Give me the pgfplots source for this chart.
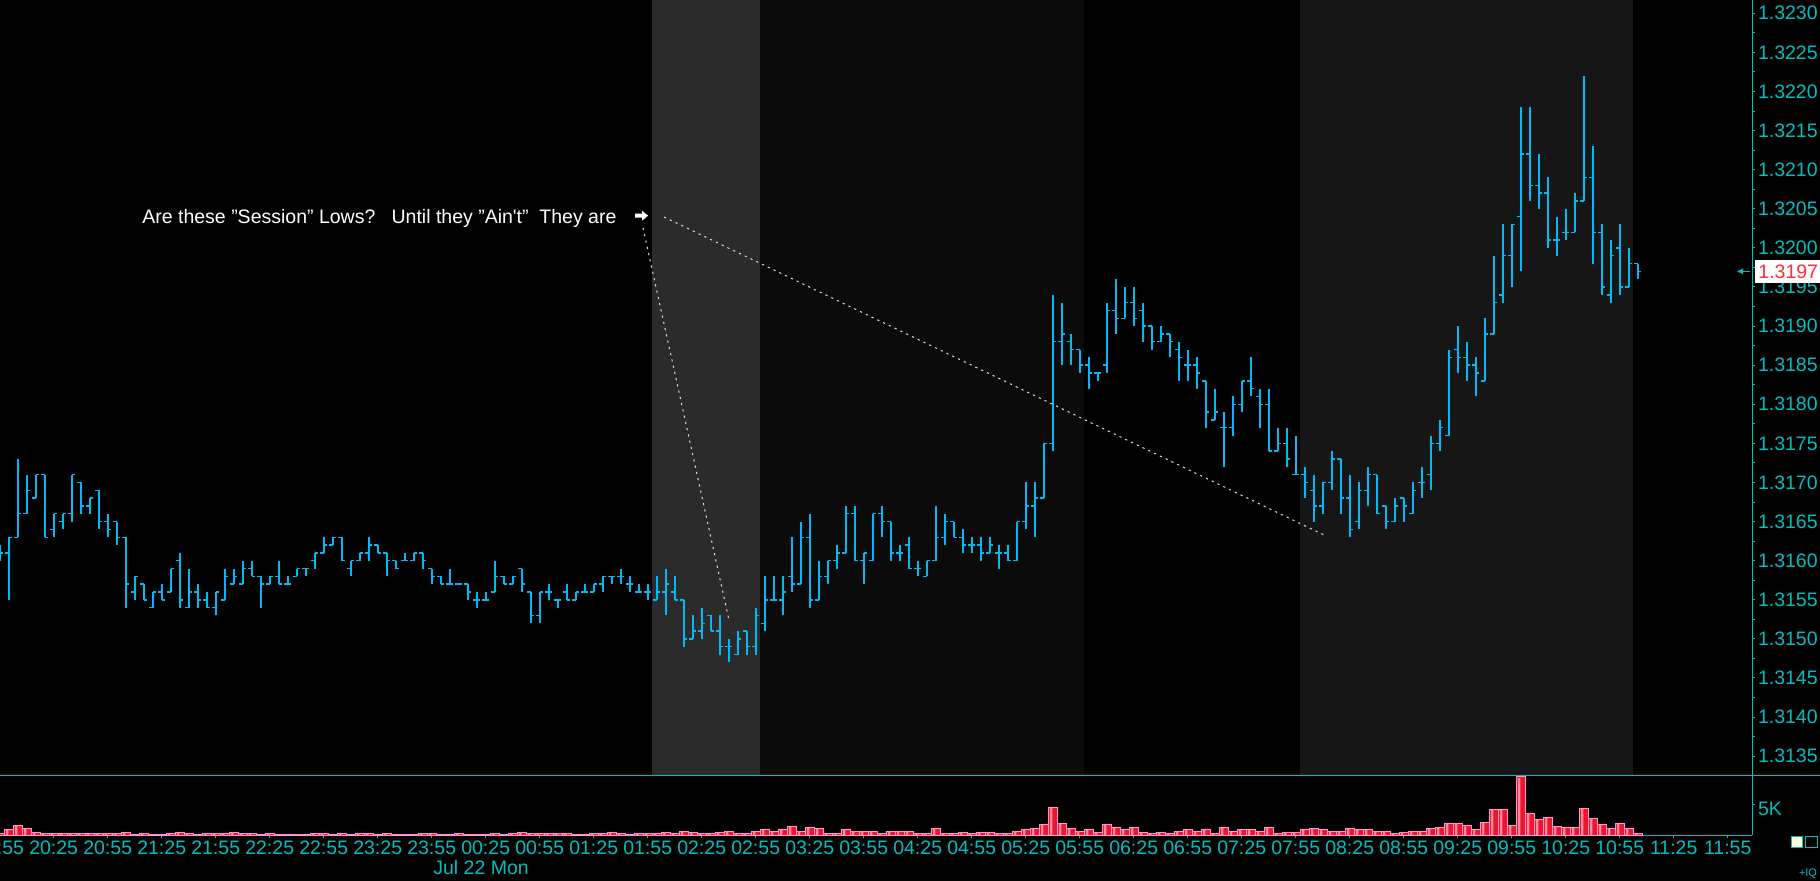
\documentclass[border=0pt]{standalone}
\usepackage{pgfplots}
\pgfplotsset{compat=1.18}
\usepackage{pgfplotstable}
\usepackage{fontspec}
\setmainfont{Liberation Sans}

\definecolor{barblue}{RGB}{0,185,245}
\definecolor{axcyan}{RGB}{0,190,190}
\definecolor{sessA}{RGB}{43,43,43}
\definecolor{sessB}{RGB}{11,11,11}
\definecolor{sessC}{RGB}{22,22,22}
\definecolor{vred}{RGB}{240,20,45}
\definecolor{vlight}{RGB}{255,140,155}
\definecolor{vborder}{RGB}{255,150,220}
\definecolor{lastred}{RGB}{255,45,60}
\definecolor{cream}{RGB}{255,255,215}

\newcommand\lblfont{\fontsize{9.75}{11}\selectfont}

\pgfdeclareplotmark{otick}{\pgfpathmoveto{\pgfqpoint{-1.7pt}{0pt}}\pgfpathlineto{\pgfqpoint{0pt}{0pt}}\pgfusepathqstroke}
\pgfdeclareplotmark{ctick}{\pgfpathmoveto{\pgfqpoint{0pt}{0pt}}\pgfpathlineto{\pgfqpoint{1.7pt}{0pt}}\pgfusepathqstroke}

% price in pips above 1.3000 (o h l c), volume v
\pgfplotstableread{
i o h l c v
0 161 162 160 161 335
1 161 163 155 163 890
2 163 173 163 166 1555
3 166 171 166 169 1055
4 168 171 168 171 500
5 171 171 163 163 335
6 164 166 163 166 220
7 165 166 164 166 220
8 166 171 165 171 335
9 170 170 166 167 335
10 167 168 166 168 220
11 169 169 164 165 220
12 165 166 163 164 220
13 165 165 162 163 220
14 163 163 154 157 500
15 156 158 155 158 110
16 157 157 155 155 220
17 154 156 154 156 110
18 156 157 155 155 110
19 156 159 156 159 220
20 160 161 154 155 390
21 154 159 154 156 220
22 156 157 154 155 110
23 155 156 154 154 220
24 154 156 153 156 220
25 155 159 155 158 220
26 157 159 157 158 390
27 157 160 157 159 220
28 159 160 158 158 220
29 158 158 154 157 110
30 157 158 157 158 220
31 158 160 157 157 110
32 157 158 157 157 110
33 158 159 158 159 110
34 159 159 158 159 110
35 160 161 159 161 220
36 161 163 161 162 220
37 162 163 162 163 110
38 163 163 160 160 220
39 159 160 158 160 110
40 160 161 160 161 220
41 161 163 160 162 220
42 162 162 161 161 110
43 161 161 158 160 220
44 160 160 159 159 110
45 160 161 160 160 110
46 160 161 160 161 110
47 161 161 159 160 220
48 159 159 157 158 220
49 158 158 157 157 110
50 157 159 157 157 110
51 157 157 157 157 220
52 157 157 155 156 110
53 155 156 154 155 110
54 155 156 155 155 110
55 156 160 156 158 220
56 158 158 157 157 110
57 157 158 157 158 220
58 159 159 156 157 390
59 156 156 152 153 220
60 153 156 152 156 220
61 156 157 155 156 220
62 155 155 154 155 220
63 156 157 155 155 220
64 155 156 155 156 110
65 156 157 156 156 110
66 156 157 156 157 220
67 157 158 156 158 220
68 158 158 157 158 390
69 158 159 157 158 220
70 157 158 156 157 110
71 156 157 156 156 220
72 156 157 155 156 220
73 155 158 155 156 220
74 156 159 153 157 390
75 156 158 155 155 220
76 155 155 149 150 555
77 150 153 150 151 390
78 151 154 150 152 220
79 153 153 151 151 220
80 151 153 148 149 390
81 149 150 147 149 555
82 148 151 148 150 220
83 151 151 148 149 220
84 149 154 148 153 555
85 152 158 151 155 890
86 155 158 155 155 665
87 155 158 153 156 890
88 158 163 156 157 1390
89 157 165 157 163 665
90 163 166 154 155 1225
91 155 160 155 158 1055
92 158 160 157 160 335
93 160 162 159 161 335
94 161 167 161 166 890
95 166 167 160 160 665
96 160 161 157 161 665
97 160 166 160 166 665
98 166 167 163 165 335
99 165 165 160 161 665
100 161 162 160 161 665
101 162 163 159 159 665
102 159 160 158 159 335
103 158 160 158 160 335
104 160 167 160 163 1055
105 163 166 162 165 335
106 165 165 163 163 220
107 163 164 161 162 500
108 162 163 161 162 220
109 162 163 160 161 500
110 161 163 161 162 500
111 161 162 159 161 335
112 161 162 160 160 335
113 160 165 160 165 665
114 165 170 164 167 890
115 167 170 163 168 1055
116 168 175 168 175 1725
117 175 194 174 188 4560
118 188 193 185 189 1890
119 188 189 185 187 1055
120 187 187 184 185 665
121 185 186 182 184 890
122 184 184 183 184 500
123 185 193 184 192 1670
124 192 196 189 191 1225
125 191 195 191 193 890
126 193 195 190 191 1225
127 192 193 188 190 500
128 190 190 187 188 335
129 188 190 188 189 500
130 189 189 186 188 335
131 187 188 183 186 665
132 185 187 183 185 890
133 185 186 182 184 665
134 183 183 177 179 890
135 178 182 178 179 335
136 177 179 172 177 1225
137 177 181 176 180 665
138 180 183 179 183 890
139 183 186 181 182 890
140 181 182 177 180 665
141 180 182 174 174 1225
142 174 177 174 175 335
143 175 177 172 173 500
144 171 176 171 171 500
145 171 172 168 170 890
146 169 171 165 167 1055
147 167 170 166 170 890
148 170 174 169 173 665
149 173 173 166 168 665
150 168 171 163 164 1055
151 165 170 164 169 890
152 169 172 167 171 890
153 171 171 166 166 665
154 167 167 164 165 665
155 165 168 165 167 335
156 168 168 165 167 500
157 166 170 166 169 665
158 170 172 168 170 665
159 171 176 169 175 1055
160 175 178 174 177 1225
161 176 187 176 186 1890
162 187 190 184 186 1890
163 186 188 183 185 1500
164 185 186 181 184 890
165 183 191 183 189 2055
166 189 199 189 193 4225
167 194 203 193 199 4225
168 199 203 195 203 1555
169 204 218 197 212 9500
170 212 218 206 208 3560
171 208 212 205 207 2560
172 207 209 200 201 2890
173 201 204 199 201 1390
174 202 205 201 202 1225
175 202 207 202 206 1225
176 206 222 206 209 4390
177 209 213 198 202 2725
178 202 203 194 195 1725
179 194 201 193 199 1055
180 200 203 194 195 1890
181 195 200 195 198 1055
182 198 198 196 197 335
}\ohlc

\begin{document}
\begin{tikzpicture}
\useasboundingbox (0pt,0pt) rectangle (910pt,440.5pt);
\fill[black] (0pt,0pt) rectangle (910pt,440.5pt);

% ---------------- price panel ----------------
\begin{axis}[
  at={(0pt,440.5pt)}, anchor=north west,
  scale only axis, width=876pt, height=388pt,
  xmin=0.0333, xmax=194.7, ymin=132.47, ymax=231.70,
  axis x line=none, axis y line*=right,
  axis line style={-, draw=axcyan, line width=0.5pt},
  ytick={135,140,...,230},
  yticklabels={1.3135,1.3140,1.3145,1.3150,1.3155,1.3160,1.3165,1.3170,1.3175,1.3180,1.3185,1.3190,1.3195,1.3200,1.3205,1.3210,1.3215,1.3220,1.3225,1.3230},
  minor ytick={137.5,142.5,...,227.5},
  tick align=outside, major tick length=1.6pt, minor tick length=1.6pt,
  tick style={draw=axcyan, line width=0.5pt},
  yticklabel style={font=\lblfont, text=axcyan, anchor=west, inner sep=0pt, xshift=1.2pt},
  clip=false,
]
% session shading
\fill[sessA] (axis cs:72.5,132.47) rectangle (axis cs:84.5,231.70);
\fill[sessB] (axis cs:84.5,132.47) rectangle (axis cs:120.5,231.70);
\fill[sessC] (axis cs:144.5,132.47) rectangle (axis cs:181.5,231.70);

% high-low range
\addplot[draw=none, mark=none,
  error bars/.cd, y dir=plus, y explicit, error mark=none,
  error bar style={draw=barblue, line width=0.85pt, solid}]
  table[x=i, y=l, y error plus expr=\thisrow{h}-\thisrow{l}] {\ohlc};
% open / close ticks
\addplot[only marks, mark=otick, draw=barblue, line width=0.72pt] table[x=i, y=o] {\ohlc};
\addplot[only marks, mark=ctick, draw=barblue, line width=0.72pt] table[x=i, y=c] {\ohlc};

% annotation
\draw[white!88!black, line width=0.5pt, dash pattern=on 1.1pt off 2.1pt] (axis cs:73.81,203.95) -- (axis cs:147.37,163.16);
\draw[white!88!black, line width=0.5pt, dash pattern=on 1.1pt off 2.1pt] (axis cs:71.48,202.54) -- (axis cs:81.03,152.42);
\node[anchor=base west, inner sep=0pt, text=white, font=\lblfont] at (axis cs:15.81,203.18)
  {Are these "Session" Lows?\ \ \ Until they "Ain\textquotesingle t"\ \ They are};
\coordinate (arr) at (axis cs:70.59,204.12);
\coordinate (lp) at (axis cs:194.7,197);
\end{axis}

% ---------------- volume panel ----------------
\begin{axis}[
  at={(0pt,52.5pt)}, anchor=north west,
  scale only axis, width=876pt, height=29.65pt,
  xmin=0.0333, xmax=194.7, ymin=0, ymax=9565,
  axis x line*=bottom, axis y line*=right,
  axis line style={-, draw=axcyan, line width=0.5pt},
  xtick={6,12,...,192},
  xticklabels={20:25,20:55,21:25,21:55,22:25,22:55,23:25,23:55,00:25,00:55,01:25,01:55,02:25,02:55,03:25,03:55,04:25,04:55,05:25,05:55,06:25,06:55,07:25,07:55,08:25,08:55,09:25,09:55,10:25,10:55,11:25,11:55},
  ytick={5000}, yticklabels={5K},
  tick align=outside, major tick length=1.6pt,
  tick style={draw=axcyan, line width=0.5pt},
  xticklabel style={font=\lblfont, text=axcyan, anchor=north, inner sep=0pt, yshift=-1.2pt},
  yticklabel style={font=\lblfont, text=axcyan, anchor=west, inner sep=0pt, xshift=1.2pt, yshift=-2.5pt},
  clip=false,
]
\addplot[ybar, bar width=4.5pt, fill=vred, draw=vborder, line width=0.5pt] table[x=i, y=v] {\ohlc};
\addplot[ybar, bar width=1.1pt, bar shift=-0.7pt, fill=vlight, draw=none] table[x=i, y expr=\thisrow{v}*0.97] {\ohlc};
% first (cut-off) time label at bar 0
\node[anchor=north, inner sep=0pt, text=axcyan, font=\lblfont, yshift=-2.8pt] at (axis cs:0,0) {19:55};
\end{axis}

% separator line
\draw[axcyan, line width=0.5pt] (0pt,52.5pt) -- (910pt,52.5pt);

% arrow after annotation text
\fill[white] ([shift={(0pt,-1pt)}]arr) -- ++(3.5pt,0pt) -- ++(0pt,-1.5pt) -- ++(3pt,2.5pt) -- ++(-3pt,2.5pt) -- ++(0pt,-1.5pt) -- ++(-3.5pt,0pt) -- cycle;

% last price marker
\node[anchor=west, xshift=1.5pt, fill=white, text=lastred, font=\lblfont, inner xsep=1.5pt, inner ysep=0pt, minimum height=11.5pt] at (lp) {1.3197};
\fill[axcyan] ([xshift=-7.5pt]lp) -- ++(3pt,1.4pt) -- ++(0pt,-2.8pt) -- cycle;
\draw[axcyan, line width=0.5pt] ([xshift=-5pt]lp) -- ([xshift=-1pt]lp);

% date label
\node[anchor=north west, inner sep=0pt, text=axcyan, font=\lblfont] at (216.5pt,10.5pt) {Jul 22 Mon};

% bottom-right widgets
\filldraw[fill=cream, draw=axcyan, line width=0.5pt] (895.5pt,16.5pt) rectangle (901pt,22pt);
\draw[axcyan, line width=0.5pt] (902.5pt,16.5pt) rectangle (908.5pt,22pt);
\node[inner sep=0pt, text=axcyan, font=\fontsize{5.5}{6}\selectfont] at (904pt,3.5pt) {+IQ};
\end{tikzpicture}
\end{document}
